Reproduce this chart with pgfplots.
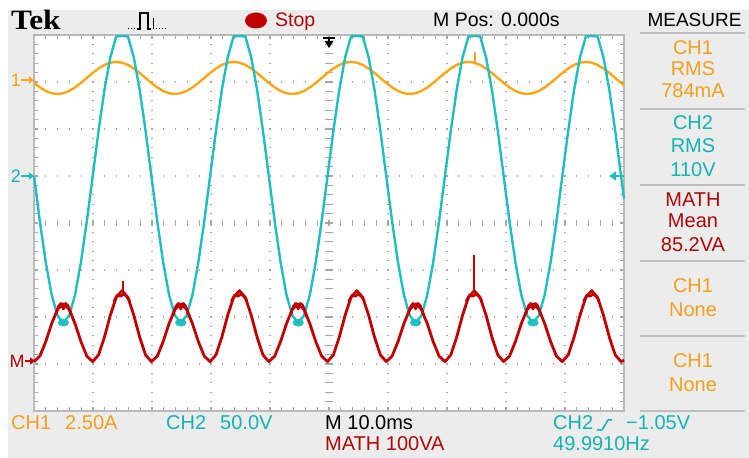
\documentclass[border=0pt]{standalone}
\usepackage{pgfplots}
\pgfplotsset{compat=1.18}
\usepackage{pgfplotstable}
\usepackage{graphicx}
\usetikzlibrary{arrows.meta}
\usepackage{fontspec}
\setmainfont{Liberation Sans}
\newfontfamily\tekfont{Liberation Serif}
\definecolor{bg}{RGB}{236,236,236}
\definecolor{gridc}{RGB}{165,165,165}
\definecolor{bord}{RGB}{185,185,185}
\definecolor{ch1}{RGB}{247,166,20}
\definecolor{ch1t}{RGB}{240,160,30}
\definecolor{ch2}{RGB}{32,190,190}
\definecolor{ch2t}{RGB}{20,178,178}
\definecolor{mth}{RGB}{192,0,0}
\definecolor{mtht}{RGB}{172,8,8}
\definecolor{sep}{RGB}{190,190,190}
\pgfplotstableread{
t v i p
0.000 0.0 -0.049 0.0
0.995 -48.2 -0.288 11.7
1.990 -91.7 -0.477 42.5
2.985 -126.2 -0.598 80.5
3.980 -148.4 -0.640 111.3
4.975 -156.0 -0.598 123.0
5.970 -148.4 -0.477 111.3
6.965 -126.2 -0.288 80.5
7.960 -91.7 -0.049 42.5
8.955 -48.2 0.215 11.7
9.950 0.0 0.479 0.0
10.945 48.2 0.718 14.4
11.940 91.7 0.907 52.2
12.935 126.2 1.028 98.8
13.930 148.4 1.070 136.6
14.925 149.0 1.028 151.0
15.920 148.4 0.907 136.6
16.915 126.2 0.718 98.8
17.910 91.7 0.479 52.2
18.905 48.2 0.215 14.4
19.900 0.0 -0.049 0.0
20.895 -48.2 -0.288 11.7
21.890 -91.7 -0.477 42.5
22.885 -126.2 -0.598 80.5
23.880 -148.4 -0.640 111.3
24.875 -156.0 -0.598 123.0
25.870 -148.4 -0.477 111.3
26.865 -126.2 -0.288 80.5
27.860 -91.7 -0.049 42.5
28.855 -48.2 0.215 11.7
29.850 0.0 0.479 0.0
30.845 48.2 0.718 14.4
31.840 91.7 0.907 52.2
32.835 126.2 1.028 98.8
33.830 148.4 1.070 136.6
34.825 149.0 1.028 151.0
35.820 148.4 0.907 136.6
36.815 126.2 0.718 98.8
37.810 91.7 0.479 52.2
38.805 48.2 0.215 14.4
39.800 0.0 -0.049 0.0
40.795 -48.2 -0.288 11.7
41.790 -91.7 -0.477 42.5
42.785 -126.2 -0.598 80.5
43.780 -148.4 -0.640 111.3
44.775 -156.0 -0.598 123.0
45.770 -148.4 -0.477 111.3
46.765 -126.2 -0.288 80.5
47.760 -91.7 -0.049 42.5
48.755 -48.2 0.215 11.7
49.750 0.0 0.479 0.0
50.745 48.2 0.718 14.4
51.740 91.7 0.907 52.2
52.735 126.2 1.028 98.8
53.730 148.4 1.070 136.6
54.725 149.0 1.028 151.0
55.720 148.4 0.907 136.6
56.715 126.2 0.718 98.8
57.710 91.7 0.479 52.2
58.705 48.2 0.215 14.4
59.700 0.0 -0.049 0.0
60.695 -48.2 -0.288 11.7
61.690 -91.7 -0.477 42.5
62.685 -126.2 -0.598 80.5
63.680 -148.4 -0.640 111.3
64.675 -156.0 -0.598 123.0
65.670 -148.4 -0.477 111.3
66.665 -126.2 -0.288 80.5
67.660 -91.7 -0.049 42.5
68.655 -48.2 0.215 11.7
69.650 0.0 0.479 0.0
70.645 48.2 0.718 14.4
71.640 91.7 0.907 52.2
72.635 126.2 1.028 98.8
73.630 148.4 1.070 136.6
74.625 149.0 1.028 151.0
75.620 148.4 0.907 136.6
76.615 126.2 0.718 98.8
77.610 91.7 0.479 52.2
78.605 48.2 0.215 14.4
79.600 0.0 -0.049 0.0
80.595 -48.2 -0.288 11.7
81.590 -91.7 -0.477 42.5
82.585 -126.2 -0.598 80.5
83.580 -148.4 -0.640 111.3
84.575 -156.0 -0.598 123.0
85.570 -148.4 -0.477 111.3
86.565 -126.2 -0.288 80.5
87.560 -91.7 -0.049 42.5
88.555 -48.2 0.215 11.7
89.550 0.0 0.479 0.0
90.545 48.2 0.718 14.4
91.540 91.7 0.907 52.2
92.535 126.2 1.028 98.8
93.530 148.4 1.070 136.6
94.525 149.0 1.028 151.0
95.520 148.4 0.907 136.6
96.515 126.2 0.718 98.8
97.510 91.7 0.479 52.2
98.505 48.2 0.215 14.4
99.500 0.0 -0.049 0.0
100.000 -24.0 -0.170 3.0
}\scopedata
% noisy thick tops of the MATH trace
\pgfplotstableread{
t p
13.525 128
14.125 142
14.625 139
15.125 143
15.625 140
16.225 129
nan nan
33.425 128
34.025 142
34.525 139
35.025 143
35.525 140
36.125 129
nan nan
53.325 128
53.925 142
54.425 139
54.925 143
55.425 140
56.025 129
nan nan
73.225 128
73.825 142
74.325 139
74.825 143
75.325 140
75.925 129
nan nan
93.125 128
93.725 142
94.225 139
94.725 143
95.225 140
95.825 129
nan nan
3.675 100
4.175 118
4.575 124
4.975 112
5.375 124
5.775 119
6.275 101
nan nan
23.575 100
24.075 118
24.475 124
24.875 112
25.275 124
25.675 119
26.175 101
nan nan
43.475 100
43.975 118
44.375 124
44.775 112
45.175 124
45.575 119
46.075 101
nan nan
63.375 100
63.875 118
64.275 124
64.675 112
65.075 124
65.475 119
65.975 101
nan nan
83.275 100
83.775 118
84.175 124
84.575 112
84.975 124
85.375 119
85.875 101
}\pnoise
\pgfplotstableread{
t v
4.975 -156
24.875 -156
44.775 -156
64.675 -156
84.575 -156
}\blobdata
\pgfplotstableread{
t i
74.7 1.03
74.7 1.60
}\ispike
\pgfplotstableread{
t p
74.6 151
74.6 227
}\pspikea
\pgfplotstableread{
t p
15.1 151
15.1 172
}\pspikeb
\newcommand{\fs}[1]{\fontsize{#1bp}{#1bp}\selectfont}
\begin{document}
\begin{tikzpicture}
\begin{scope}[x=1bp,y=1bp]
\fill[white] (0,0) rectangle (749,458);
\fill[bg] (8,0) rectangle (749,448);
\fill[white] (34,47) rectangle (624,423);
% dotted graticule
\foreach \k in {1,2,3,4,6,7,8,9}{
  \draw[gridc, line width=1.3bp, dash pattern=on 1.3bp off 8.1bp, dash phase=0.65bp] ({34+59*\k},47) -- ({34+59*\k},423);}
\foreach \j in {1,2,3,5,6,7}{
  \draw[gridc, line width=1.3bp, dash pattern=on 1.3bp off 10.5bp, dash phase=0.65bp] (34,{47+47*\j}) -- (624,{47+47*\j});}
% centre lines with ticks
\draw[gridc, line width=8bp, dash pattern=on 1.3bp off 8.1bp, dash phase=0.65bp] (329,47) -- (329,423);
\draw[gridc, line width=6bp, dash pattern=on 1.3bp off 10.5bp, dash phase=0.65bp] (34,235) -- (624,235);
% border ticks
\draw[gridc, line width=4bp, dash pattern=on 1.3bp off 8.1bp, dash phase=0.65bp] (36,47) -- (36,423);
\draw[gridc, line width=4bp, dash pattern=on 1.3bp off 8.1bp, dash phase=0.65bp] (622,47) -- (622,423);
\draw[gridc, line width=4bp, dash pattern=on 1.3bp off 10.5bp, dash phase=0.65bp] (34,49) -- (624,49);
\draw[gridc, line width=4bp, dash pattern=on 1.3bp off 10.5bp, dash phase=0.65bp] (34,421) -- (624,421);
\draw[bord, line width=1.2bp] (34,47) rectangle (624,423);
\end{scope}

\begin{axis}[at={(34bp,235bp)}, anchor=origin, width=590bp, height=376bp,
  scale only axis, xmin=0, xmax=100, ymin=-4, ymax=4, hide axis, clip=false,
  unbounded coords=jump]
% CH1 current (2.50 A/div, ground at +3 div)
\addplot[ch1, line width=2.4bp, line join=round] table[x=t, y expr=3+\thisrow{i}/2.5]{\scopedata};
\addplot[ch1, line width=1.6bp] table[x=t, y expr=3+\thisrow{i}/2.5]{\ispike};
% CH2 voltage (50 V/div, ground at +1 div)
\addplot[ch2, line width=2.4bp, line join=round] table[x=t, y expr=1+\thisrow{v}/50]{\scopedata};
\addplot[only marks, mark=*, mark size=3.6bp, mark options={ch2, xscale=1.5}] table[x=t, y expr=1+\thisrow{v}/50]{\blobdata};
% MATH power (100 VA/div, ground at -2.95 div)
\addplot[mth, line width=2.8bp, line join=round] table[x=t, y expr=-2.95+\thisrow{p}/100]{\scopedata};
\addplot[mth, line width=2.6bp, line join=round] table[x=t, y expr=-2.95+\thisrow{p}/100]{\pnoise};
\addplot[mth, line width=1.6bp] table[x=t, y expr=-2.95+\thisrow{p}/100]{\pspikea};
\addplot[mth, line width=1.6bp] table[x=t, y expr=-2.95+\thisrow{p}/100]{\pspikeb};
\end{axis}

\begin{scope}[x=1bp,y=1bp]
% channel markers
\node[ch1t, font=\fs{18}] at (16,378) {1};
\draw[ch1, line width=1.6bp, -{Triangle[length=5bp,width=7bp]}] (21,378) -- (34,378);
\node[ch2t, font=\fs{18}] at (16,282) {2};
\draw[ch2, line width=1.6bp, -{Triangle[length=5bp,width=7bp]}] (21,282) -- (34,282);
\node[mtht, font=\fs{18}] at (17,97) {M};
\draw[mth, line width=1.6bp, -{Triangle[length=5bp,width=7bp]}] (25,97) -- (35,97);
\draw[ch2, line width=2bp, -{Triangle[length=7bp,width=9bp]}] (624,282) -- (609,282);
% trigger position marker
\draw[black, line width=1.6bp] (323,420) -- (335,420);
\draw[black, line width=1.6bp] (329,421) -- (329,416);
\fill[black] (329,410) -- (324.5,417) -- (333.5,417) -- cycle;

% top bar
\node[anchor=base west, inner sep=0pt, font=\tekfont\bfseries\fs{28}] at (11,428) {\scalebox{1.12}[1]{Tek}};
\draw[black, line width=1bp, dash pattern=on 1bp off 2bp] (128,429) -- (138,429);
\draw[black, line width=1.2bp] (137,429) -- (140,429) -- (140,445) -- (148,445) -- (148,429) -- (151,429);
\draw[black, line width=1.2bp] (153.5,429) -- (153.5,440);
\draw[black, line width=1bp, dash pattern=on 1bp off 2bp] (156,429) -- (168,429);
\fill[mth] (256,437.5) ellipse (11 and 8);
\node[anchor=base west, inner sep=0pt, mtht, font=\fs{19.5}] at (275,431) {Stop};
\node[anchor=base west, inner sep=0pt, font=\fs{19.5}] at (433,431) {M Pos: 0.000s};
\node[anchor=base, inner sep=0pt, font=\fs{19}] at (694.5,431) {MEASURE};

% measure panel
\foreach \yy in {425,349,273,197,122,47}{\draw[sep, line width=1.5bp] (640,\yy) -- (745,\yy);}
\begin{scope}[every node/.style={anchor=base, inner sep=0pt, font=\fs{20}}]
\node[ch1t] at (693,403) {CH1};
\node[ch1t] at (693,382) {RMS};
\node[ch1t] at (693,360) {784mA};
\node[ch2t] at (693,328) {CH2};
\node[ch2t] at (693,305) {RMS};
\node[ch2t] at (693,281) {110V};
\node[mtht] at (693,251) {MATH};
\node[mtht] at (693,230) {Mean};
\node[mtht] at (693,206) {85.2VA};
\node[ch1t] at (693,165) {CH1};
\node[ch1t] at (693,141) {None};
\node[ch1t] at (693,90) {CH1};
\node[ch1t] at (693,66) {None};
\end{scope}

% bottom readouts
\begin{scope}[every node/.style={anchor=base west, inner sep=0pt, font=\fs{20}}]
\node[ch1t] at (11,28) {CH1};
\node[ch1t] at (65,28) {2.50A};
\node[ch2t] at (166,28) {CH2};
\node[ch2t] at (220,28) {50.0V};
\node[black] at (325,28) {M 10.0ms};
\node[mtht] at (325,7) {MATH 100VA};
\node[ch2t] at (553,28) {CH2};
\node[ch2t] at (626,28) {−1.05V};
\node[ch2t] at (553,7) {49.9910Hz};
\end{scope}
\draw[ch2t, line width=1.5bp] (597,28) -- (602,28) -- (608,38) -- (612,38);
\end{scope}
\end{tikzpicture}
\end{document}
